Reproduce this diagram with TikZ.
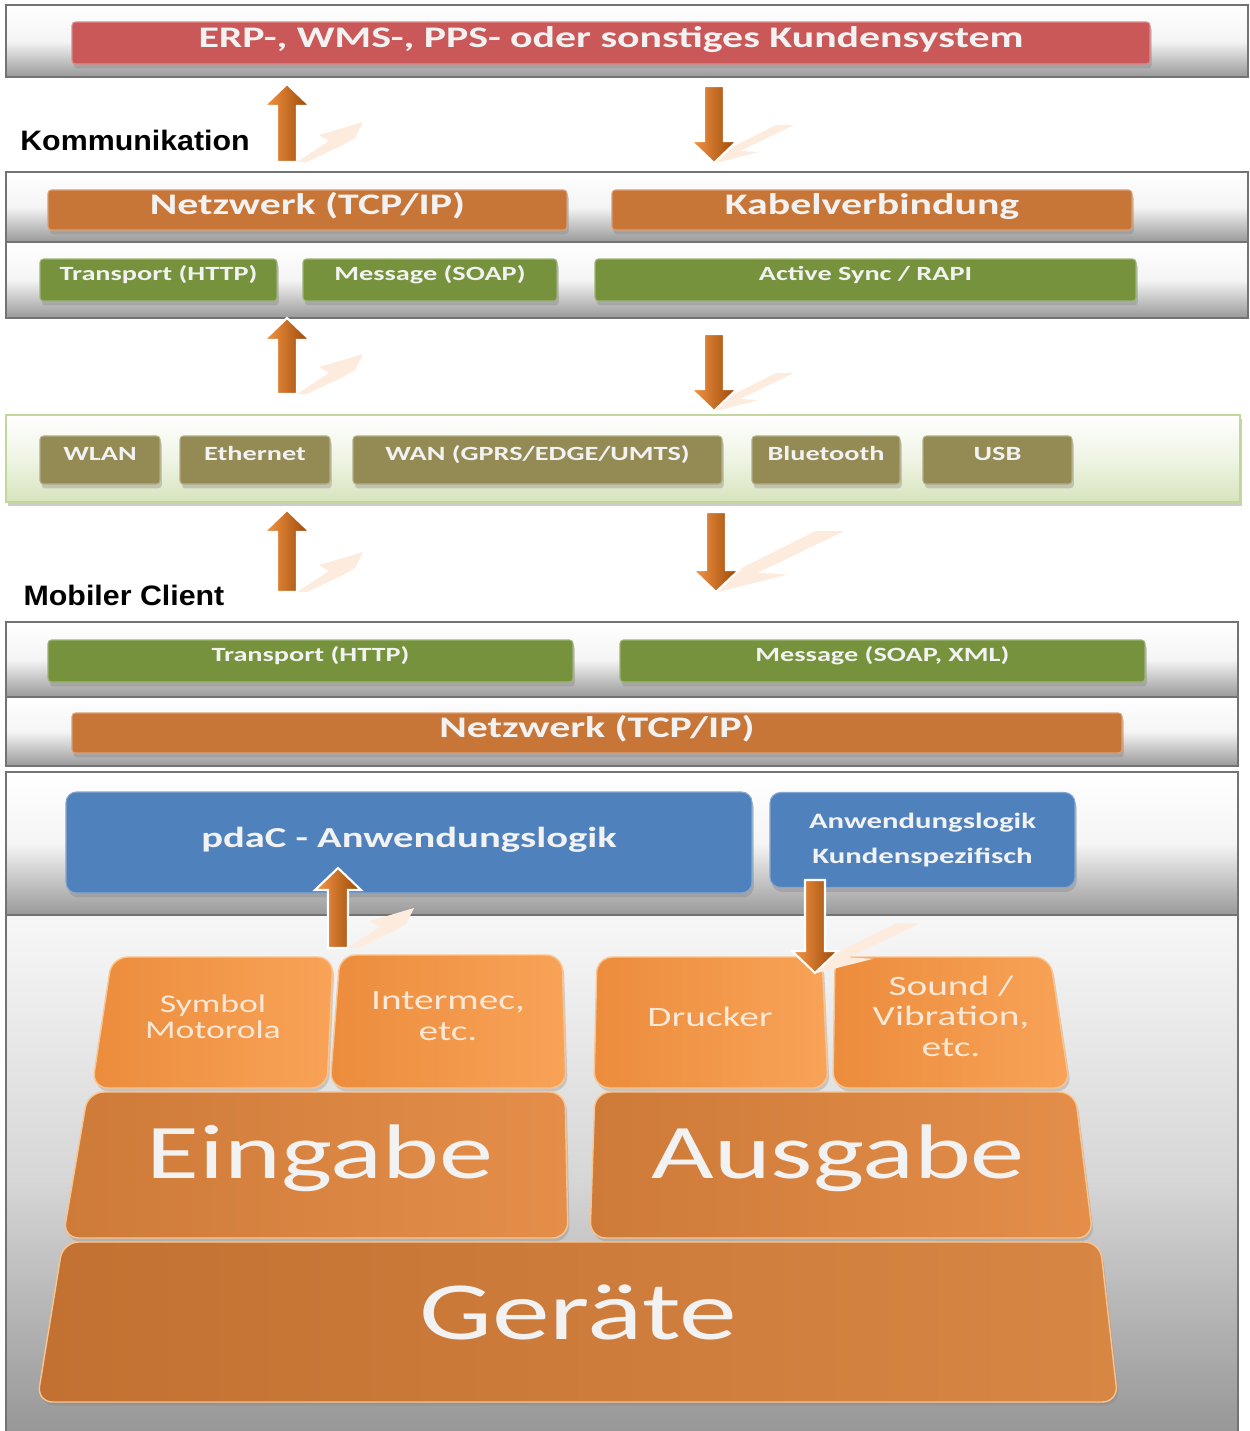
\documentclass[tikz,border=0pt]{standalone}
\usepackage{fontspec}
\setmainfont{Carlito}[FakeStretch=1.4]
\newfontfamily\headfont{Liberation Sans}[FakeStretch=1.08]
\usetikzlibrary{calc,fit,shadows}

\definecolor{erpred}{RGB}{203,88,88}
\definecolor{netorange}{RGB}{200,118,55}
\definecolor{protgreen}{RGB}{118,146,60}
\definecolor{linkolive}{RGB}{148,138,84}
\definecolor{logicblue}{RGB}{79,129,189}
\definecolor{linkborder}{RGB}{195,214,155}
\definecolor{linkfill}{RGB}{215,228,189}
\definecolor{labeltext}{RGB}{242,242,242}
\definecolor{keytopl}{RGB}{236,140,60}
\definecolor{keytopr}{RGB}{248,163,88}
\definecolor{keymidl}{RGB}{206,122,56}
\definecolor{keymidr}{RGB}{228,142,74}
\definecolor{keylowl}{RGB}{194,113,50}
\definecolor{keylowr}{RGB}{216,134,68}
\definecolor{keyedge}{RGB}{250,196,140}
\definecolor{keytext}{RGB}{252,232,214}
\definecolor{arrowlight}{RGB}{247,150,70}
\definecolor{arrowdark}{RGB}{152,72,7}
\definecolor{glarecol}{RGB}{253,236,222}

\newcommand{\flowarrow}[3]{%
  \path[flowarrow] ($(#1)+(-10,0)$) -- ($(#2)+(-10,#3)$) -- ($(#2)+(-23,#3)$) -- (#2)
    -- ($(#2)+(23,#3)$) -- ($(#2)+(10,#3)$) -- ($(#1)+(10,0)$) -- cycle;}
\newcommand{\glareup}[1]{%
  \fill[glarecol] ($(#1)+(10,0)$) -- ($(#1)+(42,-21)$) -- ($(#1)+(32,-27)$) -- ($(#1)+(76,-40)$)
    -- ($(#1)+(68,-24)$) -- ($(#1)+(56,-17)$) -- ($(#1)+(20,0)$) -- cycle;}
\newcommand{\glaredown}[2]{%
  \fill[glarecol] ($(#1)+(2,0)$) -- ($(#1)+#2*(45,-11)$) -- ($(#1)+#2*(26,-12)$) -- ($(#1)+#2*(80,-38)$)
    -- ($(#1)+#2*(62,-38)$) -- ($(#1)+#2*(10,-12)$) -- cycle;}

\begin{document}
\begin{tikzpicture}[x=0.02cm, y=-0.02cm,
  wh/.style 2 args={minimum width=#1*0.02cm, minimum height=#2*0.02cm},
  panel/.style={draw=black!55, line width=1.2pt, inner sep=0pt,
    top color=white, bottom color=black!40, middle color=black!4},
  linkpanel/.style={draw=linkborder, line width=1.5pt, inner sep=0pt,
    top color=white, bottom color=linkfill, middle color=linkfill!40!white,
    drop shadow={opacity=0.4, shadow xshift=1pt, shadow yshift=-2pt}},
  bar/.style={fill=#1, draw=#1!70!white, line width=0.6pt, rounded corners=2pt, inner sep=0pt,
    text=labeltext, font=\bfseries\fontsize{17}{20}\selectfont,
    drop shadow={opacity=0.35, shadow xshift=1pt, shadow yshift=-2.5pt}},
  widebar/.style={bar=#1, text height=12pt, text depth=6.8pt},
  smallbar/.style={bar=#1, font=\bfseries\fontsize{11.5}{14}\selectfont,
    text height=8.5pt, text depth=8pt},
  key/.style={draw=keyedge, line width=0.8pt, rounded corners=9pt,
    drop shadow={opacity=0.3, shadow xshift=1pt, shadow yshift=-2pt}},
  keylabel/.style={text=keytext, align=center, font=\fontsize{16}{17.4}\selectfont},
  bigtext/.style={text=labeltext, anchor=base, font=\fontsize{44}{50}\selectfont},
  headlabel/.style={font=\headfont\bfseries\fontsize{16}{19}\selectfont},
  flowarrow/.style={left color=arrowlight, right color=arrowdark, draw=white, line width=1.2pt}]

\useasboundingbox (0,0) rectangle (1250,1431);

% panels
\node[panel, fit={(6,5) (1248,77)}] (erppanel) {};
\node[panel, fit={(6,172) (1248,242)}] (netpanel) {};
\node[panel, fit={(6,242) (1248,318)}] (protpanel) {};
\node[linkpanel, fit={(6,415) (1240,502)}] (linkpanel) {};
\node[panel, fit={(6,622) (1238,697)}] (cprotpanel) {};
\node[panel, fit={(6,697) (1238,766)}] (cnetpanel) {};
\node[panel, fit={(6,772) (1238,915)}] (logicpanel) {};
\node[panel, top color=black!3, bottom color=black!42, middle color=black!16,
  fit={(6,915) (1238,1445)}] (devpanel) {};

\node[headlabel] (komm) at (135,140) {Kommunikation};
\node[headlabel] (mobil) at (124,595) {Mobiler Client};

% server side
\node[widebar=erpred, wh={1078}{42}] (erp) at (611,43) {ERP-, WMS-, PPS- oder sonstiges Kundensystem};
\node[widebar=netorange, wh={519}{40}] (tcp) at (307.5,210) {Netzwerk (TCP/IP)};
\node[widebar=netorange, wh={520}{40}] (kabel) at (872,210) {Kabelverbindung};
\node[smallbar=protgreen, wh={237}{42}] (http) at (158.5,280) {Transport (HTTP)};
\node[smallbar=protgreen, wh={254}{42}] (soap) at (430,280) {Message (SOAP)};
\node[smallbar=protgreen, wh={541}{42}] (rapi) at (865.5,280) {Active Sync / RAPI};

% links
\node[smallbar=linkolive, wh={120}{48}] (wlan) at (100,460) {WLAN};
\node[smallbar=linkolive, wh={150}{48}] (eth) at (255,460) {Ethernet};
\node[smallbar=linkolive, wh={369}{48}] (wan) at (537.5,460) {WAN (GPRS/EDGE/UMTS)};
\node[smallbar=linkolive, wh={148}{48}] (bt) at (826,460) {Bluetooth};
\node[smallbar=linkolive, wh={149}{48}] (usb) at (997.5,460) {USB};

% client
\node[smallbar=protgreen, wh={525}{42}] (chttp) at (310.5,661) {Transport (HTTP)};
\node[smallbar=protgreen, wh={525}{42}] (csoap) at (882.5,661) {Message (SOAP, XML)};
\node[widebar=netorange, wh={1050}{40}] (ctcp) at (597,733) {Netzwerk (TCP/IP)};
\node[widebar=logicblue, rounded corners=6pt, font=\bfseries\fontsize{16.5}{20}\selectfont,
  wh={686}{101}] (pdac) at (409,842.5) {pdaC - Anwendungslogik};
\node[bar=logicblue, rounded corners=6pt, align=center, font=\bfseries\fontsize{12.5}{20}\selectfont,
  wh={305}{95}] (custom) at (922.5,840) {Anwendungslogik\\Kundenspezifisch};

% devices
\draw[key, left color=keytopl, right color=keytopr] (112,957) -- (333,957) -- (327,1088) -- (92,1088) -- cycle;
\draw[key, left color=keytopl, right color=keytopr] (340,955) -- (562,955) -- (566,1088) -- (330,1088) -- cycle;
\draw[key, left color=keytopl, right color=keytopr] (597,957) -- (822,957) -- (828,1088) -- (594,1088) -- cycle;
\draw[key, left color=keytopl, right color=keytopr] (835,957) -- (1050,957) -- (1070,1088) -- (833,1088) -- cycle;
\draw[key, left color=keymidl, right color=keymidr] (88,1092) -- (565,1092) -- (568,1238) -- (63,1238) -- cycle;
\draw[key, left color=keymidl, right color=keymidr] (595,1092) -- (1075,1092) -- (1093,1238) -- (590,1238) -- cycle;
\draw[key, left color=keylowl, right color=keylowr] (63,1242) -- (1100,1242) -- (1118,1402) -- (37,1402) -- cycle;

\node[keylabel, font=\fontsize{14.5}{15}\selectfont] (symbol) at (213,1017) {Symbol\\Motorola};
\node[keylabel] (intermec) at (448,1016) {Intermec,\\etc.};
\node[keylabel] (drucker) at (710,1017) {Drucker};
\node[keylabel] (sound) at (951,1016) {Sound /\\Vibration,\\etc.};
\node[bigtext] (eingabe) at (320,1178) {Eingabe};
\node[bigtext] (ausgabe) at (838,1178) {Ausgabe};
\node[bigtext, font=\fontsize{47}{52}\selectfont] (geraete) at (578,1339) {Geräte};

% arrows
\coordinate (ub1) at (287,162); \coordinate (ut1) at (287,84);
\coordinate (ds1) at (714,86);  \coordinate (dt1) at (714,163);
\coordinate (ub2) at (287,394); \coordinate (ut2) at (287,318);
\coordinate (ds2) at (714,334); \coordinate (dt2) at (714,411);
\coordinate (ub3) at (287,592); \coordinate (ut3) at (287,510);
\coordinate (ds3) at (716,512); \coordinate (dt3) at (716,592);
\coordinate (ub4) at (338,948); \coordinate (ut4) at (338,868);
\coordinate (ds4) at (815,880); \coordinate (dt4) at (815,973);

\foreach \i/\s in {1/1,2/1,3/1.6,4/1.3} {
  \glareup{ub\i}
  \glaredown{dt\i}{\s}
  \flowarrow{ub\i}{ut\i}{22}
  \flowarrow{ds\i}{dt\i}{-22}
}

\end{tikzpicture}
\end{document}
